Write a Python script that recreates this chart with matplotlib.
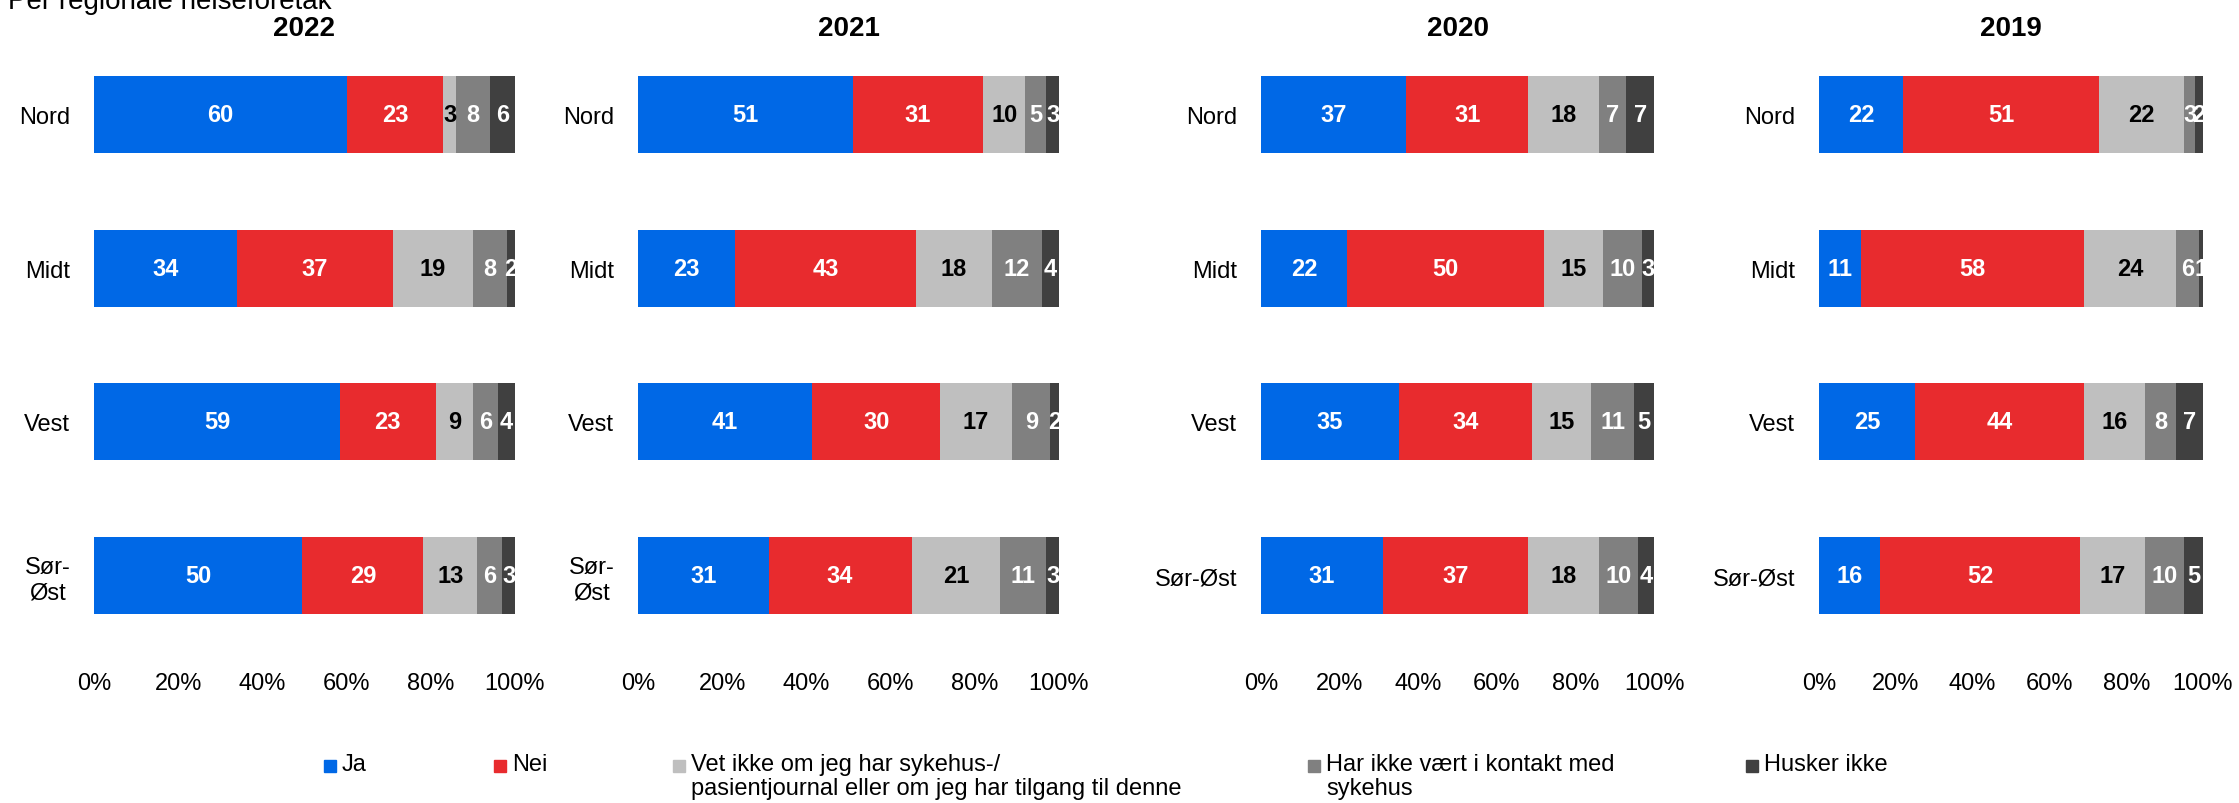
import numpy as np
import matplotlib.pyplot as plt
from matplotlib.lines import Line2D

plt.rcParams['font.family'] = ['Liberation Sans', 'DejaVu Sans']

# Data: rows = Nord, Midt, Vest, Sør-Øst ; columns = answer categories
aar = ["2022", "2021", "2020", "2019"]
kategorier = ["Ja", "Nei",
              "Vet ikke om jeg har sykehus-/\npasientjournal eller om jeg har tilgang til denne",
              "Har ikke vært i kontakt med\nsykehus",
              "Husker ikke"]
farger = ["#0068E6", "#E82B2E", "#BFBFBF", "#808080", "#404040"]
tekstfarger = ["white", "white", "black", "white", "white"]

regioner_2lin = ["Nord", "Midt", "Vest", "Sør-\nØst"]
regioner_1lin = ["Nord", "Midt", "Vest", "Sør-Øst"]

verdier_2022 = [[60, 23, 3, 8, 6],
                [34, 37, 19, 8, 2],
                [59, 23, 9, 6, 4],
                [50, 29, 13, 6, 3]]
verdier_2021 = [[51, 31, 10, 5, 3],
                [23, 43, 18, 12, 4],
                [41, 30, 17, 9, 2],
                [31, 34, 21, 11, 3]]
verdier_2020 = [[37, 31, 18, 7, 7],
                [22, 50, 15, 10, 3],
                [35, 34, 15, 11, 5],
                [31, 37, 18, 10, 4]]
verdier_2019 = [[22, 51, 22, 3, 2],
                [11, 58, 24, 6, 1],
                [25, 44, 16, 8, 7],
                [16, 52, 17, 10, 5]]

alle_verdier = [verdier_2022, verdier_2021, verdier_2020, verdier_2019]
alle_etiketter = [regioner_2lin, regioner_2lin, regioner_1lin, regioner_1lin]

W, H = 2239, 804
fig = plt.figure(figsize=(W / 100, H / 100), dpi=100)

# pixel extents of each panel (left, right)
paneler = [(94, 515), (638, 1059), (1261, 1654), (1819, 2203)]
topp, bunn = 57, 635

for i, (venstre, hoyre) in enumerate(paneler):
    ax = fig.add_axes([venstre / W, 1 - bunn / H, (hoyre - venstre) / W, (bunn - topp) / H])
    data = np.array(alle_verdier[i], dtype=float)
    # scale each row so bars fill 0-100 %
    data = data / data.sum(axis=1, keepdims=True) * 100
    y = np.arange(len(data))
    start = np.zeros(len(data))
    for k in range(data.shape[1]):
        ax.barh(y, data[:, k], left=start, height=0.5, color=farger[k], edgecolor='none')
        for j in range(len(data)):
            ax.text(start[j] + data[j, k] / 2, y[j], str(alle_verdier[i][j][k]),
                    ha='center', va='center', fontsize=17, fontweight='bold',
                    color=tekstfarger[k])
        start += data[:, k]
    ax.set_xlim(0, 100)
    ax.set_ylim(3.377, -0.377)
    ax.set_yticks(y)
    ax.set_yticklabels(alle_etiketter[i], fontsize=17, ha='right', multialignment='center')
    ax.set_xticks([0, 20, 40, 60, 80, 100])
    ax.set_xticklabels(["0%", "20%", "40%", "60%", "80%", "100%"], fontsize=17)
    ax.tick_params(axis='x', length=0, pad=27)
    ax.tick_params(axis='y', length=0, pad=17)
    for s in ax.spines.values():
        s.set_visible(False)
    ax.set_title(aar[i], fontsize=20, fontweight='bold', pad=15)

# cut-off heading at the very top
fig.text(8 / W, 1 - 9 / H, "Per regionale helseforetak", fontsize=20, va='baseline', ha='left')

# legend, placed item by item
leg_x = [330, 500, 679, 1314, 1752]
leg_y = 1 - 767 / H
for k, navn in enumerate(kategorier):
    fig.add_artist(Line2D([leg_x[k] / W], [leg_y], marker='s', markersize=8,
                          color=farger[k], linestyle='none', transform=fig.transFigure))
    fig.text((leg_x[k] + 12) / W, leg_y + 13 / H, navn, fontsize=17, va='top', ha='left',
             linespacing=1.1)

plt.savefig("out.png", dpi=100)
